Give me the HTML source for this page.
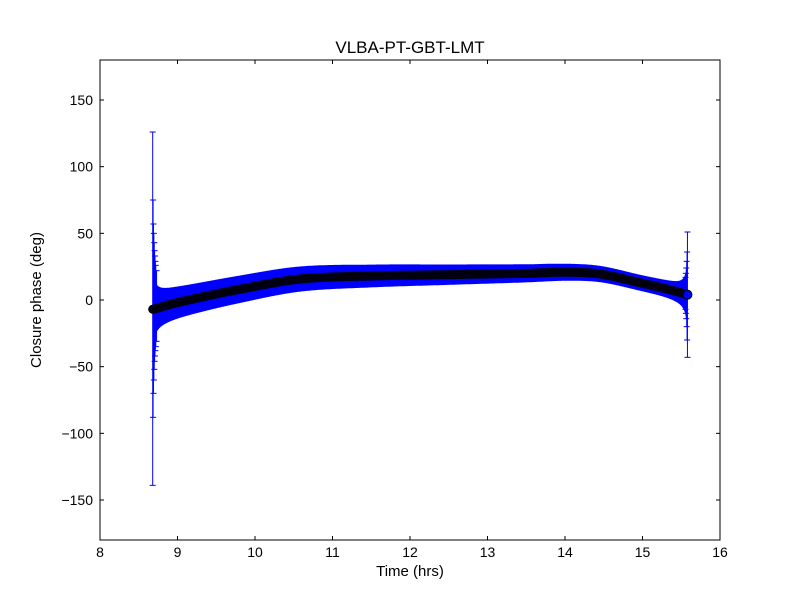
<!DOCTYPE html>
<html><head><meta charset="utf-8"><style>
body{margin:0;background:#fff}
svg text{font-family:"Liberation Sans","DejaVu Sans",sans-serif;fill:#000}
</style></head><body>
<svg id="s" width="800" height="600" xmlns="http://www.w3.org/2000/svg">
<rect width="800" height="600" fill="#fff"/>
<g id="data"></g>
<rect x="100" y="60" width="620" height="480" fill="none" stroke="#000" stroke-width="1"/>
<g id="ticks" stroke="#000" stroke-width="1"></g>
<g id="labels" font-size="14"></g>
<text x="410" y="53" font-size="17" text-anchor="middle">VLBA-PT-GBT-LMT</text>
<text x="410" y="576" font-size="15" text-anchor="middle">Time (hrs)</text>
<text transform="translate(41,300) rotate(-90)" font-size="15" text-anchor="middle">Closure phase (deg)</text>
</svg>
<script>
const NS="http://www.w3.org/2000/svg";
const X=t=>100+(t-8)*77.5, Y=d=>300-d*480/360;
const tk=document.getElementById('ticks'),lb=document.getElementById('labels'),dg=document.getElementById('data');
function el(p,tag,a,txt){const e=document.createElementNS(NS,tag);for(const k in a)e.setAttribute(k,a[k]);if(txt!==undefined)e.textContent=txt;p.appendChild(e);return e;}
for(let t=8;t<=16;t++){const x=X(t);el(tk,'line',{x1:x,y1:540,x2:x,y2:536});el(tk,'line',{x1:x,y1:60,x2:x,y2:64});el(lb,'text',{x:x,y:557,'text-anchor':'middle'},t);}
for(let d=-150;d<=150;d+=50){const y=Y(d);el(tk,'line',{x1:100,y1:y,x2:104,y2:y});el(tk,'line',{x1:720,y1:y,x2:716,y2:y});el(lb,'text',{x:93,y:y+5,'text-anchor':'end'},d===0?'0':(d<0?'\u2212'+(-d):d));}
const pts=[[8.2,-14],[8.68,-7],[9.03,-1.5],[9.8,8],[10.58,15.7],[11.5,18],[12.5,19],[13.5,20],[14.0,20.8],[14.45,19.5],[15,12.5],[15.3,8.5],[15.58,4],[16.0,-3]];
function c(t){for(let i=1;i<pts.length-2;i++){const [t1,p1]=pts[i],[t2,p2]=pts[i+1];if(t<=t2||i==pts.length-3){const p0=pts[i-1][1],p3=pts[i+2][1];const u=(t-t1)/(t2-t1);
const m1=(p2-p0)/(t2-pts[i-1][0])*(t2-t1),m2=(p3-p1)/(pts[i+2][0]-t1)*(t2-t1);
const u2=u*u,u3=u2*u;return (2*u3-3*u2+1)*p1+(u3-2*u2+u)*m1+(-2*u3+3*u2)*p2+(u3-u2)*m2;}}}
function h(t){return Math.min(10.5-0.9*(t-9)+0.5/Math.max(t-8.66,0.01)+0.5/Math.max(15.6-t,0.01),32);}
let up=[],dn=[],cl=[];
for(let t=8.68;t<=15.581;t+=0.005){const m=c(t),w=h(t);up.push(X(t).toFixed(1)+','+Y(m+w).toFixed(1));dn.unshift(X(t).toFixed(1)+','+Y(m-w).toFixed(1));cl.push(X(t).toFixed(1)+','+Y(m).toFixed(1));}
el(dg,'polygon',{points:up.concat(dn).join(' '),fill:'#0000ff'});
function eb(t,lo,hi){const x=X(t);el(dg,'line',{x1:x,y1:Y(lo),x2:x,y2:Y(hi),stroke:'#0000ff','stroke-width':1});[lo,hi].forEach(v=>el(dg,'line',{x1:x-3,y1:Y(v),x2:x+3,y2:Y(v),stroke:'#0000ff','stroke-width':1}));}
eb(8.68,-139,126);eb(8.685,-88,75);eb(8.69,-70,57);eb(8.695,-60,50);eb(8.70,-52,43);eb(8.705,-46,37);eb(8.71,-42,33);eb(8.715,-38,29);eb(8.72,-35,26);eb(8.73,-31,22);
eb(15.58,-43,51);eb(15.575,-30,36);eb(15.57,-20,29);eb(15.565,-14,24);eb(15.56,-10,20);eb(15.555,-7,17);
el(dg,'polyline',{points:cl.join(' '),fill:'none',stroke:'#000010','stroke-width':9,'stroke-linecap':'round'});
el(dg,'circle',{cx:X(15.58),cy:Y(4),r:4.5,fill:'#0000ff',stroke:'#000','stroke-width':1});
</script>
</body></html>
